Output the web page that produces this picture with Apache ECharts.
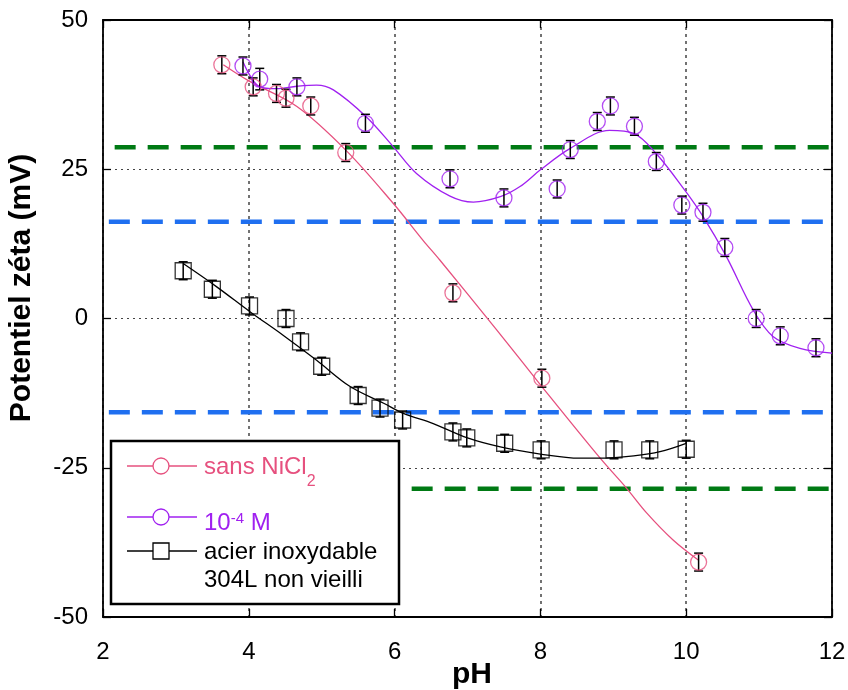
<!DOCTYPE html>
<html>
<head>
<meta charset="utf-8">
<script src="https://cdn.jsdelivr.net/npm/echarts@6/dist/echarts.min.js"></script>
<style>html,body{margin:0;padding:0;background:#fff}#c{width:848px;height:690px}</style>
</head>
<body>
<div id="c"></div>
<script>
// ---- data ----
const xTicks = [2, 4, 6, 8, 10, 12];
const yTicks = [-50, -25, 0, 25, 50];

// sans NiCl2 (pink circles)
const pinkX = [3.63, 4.06, 4.38, 4.51, 4.85, 5.33, 6.80, 8.02, 10.17];
const pinkY = [42.5, 38.8, 37.7, 36.9, 35.6, 27.8, 4.3, -10.0, -40.8];
const pinkErr = [1.5, 1.5, 1.5, 1.5, 1.5, 1.5, 1.5, 1.5, 1.5];
const pinkFitX = [3.65, 4.0, 4.66, 5.33, 5.98, 6.39, 6.62, 7.40, 8.02, 8.82, 9.18, 9.46, 9.82, 10.17];
const pinkFitY = [42.5, 39.8, 35.5, 28.2, 19.3, 13.1, 9.8, -1.9, -11.4, -23.4, -28.4, -32.6, -37.1, -40.5];

// 10^-4 M (purple circles)
const purpleX = [3.92, 4.15, 4.66, 5.60, 6.76, 7.50, 8.23, 8.41, 8.78, 8.96, 9.29, 9.59, 9.94, 10.23, 10.53, 10.96, 11.29, 11.78];
const purpleY = [42.3, 40.1, 38.8, 32.7, 23.4, 20.2, 21.7, 28.3, 33.0, 35.6, 32.2, 26.3, 19.0, 17.8, 11.9, 0.0, -2.9, -4.9];
const purpleErr = [1.5, 1.8, 1.5, 1.5, 1.5, 1.5, 1.5, 1.5, 1.5, 1.5, 1.5, 1.5, 1.5, 1.5, 1.5, 1.5, 1.5, 1.5];
const purpleFitX = [3.92, 4.15, 4.38, 4.66, 4.93, 5.16, 5.61, 5.98, 6.30, 6.76, 7.08, 7.45, 7.72, 8.0, 8.41, 8.95, 9.28, 9.59, 9.98, 10.23, 10.55, 10.92, 11.19, 11.56, 12.0];
const purpleFitY = [43.0, 38.8, 38.5, 38.9, 39.1, 38.3, 33.8, 28.8, 24.3, 20.5, 19.5, 20.4, 22.1, 24.9, 28.5, 31.5, 31.0, 27.6, 21.5, 17.1, 10.4, 1.4, -3.0, -5.0, -5.8];

// acier inoxydable 304L non vieilli (black squares)
const steelX = [3.10, 3.50, 4.01, 4.51, 4.71, 5.00, 5.50, 5.80, 6.11, 6.80, 6.99, 7.51, 8.01, 9.01, 9.50, 10.00];
const steelY = [8.0, 4.9, 2.1, 0.0, -3.9, -8.0, -12.9, -15.0, -17.0, -19.0, -20.0, -20.9, -22.0, -22.0, -22.0, -21.9];
const steelErr = [1.5, 1.5, 1.5, 1.5, 1.5, 1.5, 1.5, 1.5, 1.5, 1.5, 1.5, 1.5, 1.5, 1.5, 1.5, 1.5];
const steelFitX = [3.10, 3.56, 4.02, 4.47, 4.93, 5.39, 5.85, 6.12, 6.53, 7.0, 7.45, 8.0, 8.54, 8.82, 9.28, 9.64, 10.0];
const steelFitY = [9.2, 5.3, 1.1, -2.8, -7.0, -11.4, -14.2, -15.9, -17.6, -20.0, -21.5, -22.7, -23.4, -23.4, -23.0, -22.3, -20.9];

// dashed reference levels (mV) and their pH extent
const greenLevels = [28.7, -28.5];
const blueLevels = [16.2, -15.7];
const greenStart = [2.16, 2.16];
const blueStart = [2.08, 2.08];
const refEnd = 12;

const legendNames = ['sans NiCl', '2', '10', '-4', ' M', 'acier inoxydable', '304L non vieilli'];
const xTitle = 'pH';
const yTitleText = 'Potentiel zéta (mV)';

// ---- styles ----
const PINK = '#e6507e', PURPLE = '#a020f0', GREEN = '#007a14', BLUE = '#1f6ff0';
const FONT = "'Liberation Sans', Arial, sans-serif";

const zip = (a, b) => a.map((v, i) => [v, b[i]]);

function errSeries(xs, ys, es) {
  return {
    type: 'custom', z: 4, silent: true,
    renderItem: (params, api) => {
      const x = api.value(0), y = api.value(1), e = api.value(2);
      const p1 = api.coord([x, y + e]), p2 = api.coord([x, y - e]);
      const w = 4.5;
      const st = { stroke: '#000', lineWidth: 1.5 };
      return { type: 'group', children: [
        { type: 'line', shape: { x1: p1[0], y1: p1[1], x2: p2[0], y2: p2[1] }, style: st },
        { type: 'line', shape: { x1: p1[0] - w, y1: p1[1], x2: p1[0] + w, y2: p1[1] }, style: st },
        { type: 'line', shape: { x1: p2[0] - w, y1: p2[1], x2: p2[0] + w, y2: p2[1] }, style: st }
      ]};
    },
    encode: { x: 0, y: 1 },
    data: xs.map((x, i) => [x, ys[i], es[i]])
  };
}
function fitSeries(xs, ys, color) {
  return { type: 'line', data: zip(xs, ys), showSymbol: false, symbol: 'none', smooth: 0.35,
    lineStyle: { color: color, width: 1.3 }, z: 3, silent: true };
}
function markSeries(xs, ys, color, symbol) {
  return { type: 'scatter', data: zip(xs, ys), symbol: symbol, symbolSize: 16,
    itemStyle: { color: 'rgba(0,0,0,0)', borderColor: color, borderWidth: 1.3 }, z: 5, silent: true };
}
function refSeries(levels, starts, color) {
  return levels.map((lv, i) => ({
    type: 'line', data: [[starts[i], lv], [refEnd, lv]], showSymbol: false, symbol: 'none',
    lineStyle: { color: color, width: 4.5, type: [21, 12] }, z: 2, silent: true
  }));
}

const chart = echarts.init(document.getElementById('c'), null, { renderer: 'canvas' });

const LZ = 100;
const legendChildren = [
  { type: 'rect', z: LZ, shape: { x: 111, y: 441, width: 288, height: 163 }, style: { fill: '#fff', stroke: '#000', lineWidth: 2.5 } },
  { type: 'line', z: LZ + 1, shape: { x1: 127, y1: 466, x2: 197, y2: 466 }, style: { stroke: PINK, lineWidth: 1.3 } },
  { type: 'circle', z: LZ + 2, shape: { cx: 161, cy: 466, r: 8 }, style: { fill: '#fff', stroke: PINK, lineWidth: 1.3 } },
  { type: 'line', z: LZ + 1, shape: { x1: 127, y1: 517, x2: 197, y2: 517 }, style: { stroke: PURPLE, lineWidth: 1.3 } },
  { type: 'circle', z: LZ + 2, shape: { cx: 161, cy: 517, r: 8 }, style: { fill: '#fff', stroke: PURPLE, lineWidth: 1.3 } },
  { type: 'line', z: LZ + 1, shape: { x1: 127, y1: 551, x2: 197, y2: 551 }, style: { stroke: '#000', lineWidth: 1.3 } },
  { type: 'rect', z: LZ + 2, shape: { x: 153, y: 543, width: 16, height: 16 }, style: { fill: '#fff', stroke: '#000', lineWidth: 1.3 } },
  { type: 'text', z: LZ + 2, x: 204, y: 467, style: {
      text: '{m|' + legendNames[0] + '}{s|' + legendNames[1] + '}', verticalAlign: 'middle', align: 'left',
      rich: { m: { fontSize: 24, fontFamily: FONT, fill: PINK, lineHeight: 46 },
              s: { fontSize: 16, fontFamily: FONT, fill: PINK, lineHeight: 16, verticalAlign: 'bottom' } } } },
  { type: 'text', z: LZ + 2, x: 204, y: 523, style: {
      text: '{m|' + legendNames[2] + '}{p|' + legendNames[3] + '}{m|' + legendNames[4] + '}', verticalAlign: 'middle', align: 'left',
      rich: { m: { fontSize: 24, fontFamily: FONT, fill: PURPLE, lineHeight: 24 },
              p: { fontSize: 15, fontFamily: FONT, fill: PURPLE, lineHeight: 14, verticalAlign: 'top' } } } },
  { type: 'text', z: LZ + 2, x: 204, y: 552, style: { text: legendNames[5], fontSize: 24, fontFamily: FONT, fill: '#000', verticalAlign: 'middle', align: 'left' } },
  { type: 'text', z: LZ + 2, x: 204, y: 580, style: { text: legendNames[6], fontSize: 24, fontFamily: FONT, fill: '#000', verticalAlign: 'middle', align: 'left' } }
];
const yTitle = { type: 'text', x: 22, y: 288, rotation: Math.PI / 2, z: LZ,
  style: { text: yTitleText, fontSize: 30, fontWeight: 'bold', fontFamily: FONT, fill: '#000', align: 'center', verticalAlign: 'middle' } };
const xTitleEl = { type: 'text', x: 472, y: 675, z: LZ,
  style: { text: xTitle, fontSize: 30, fontWeight: 'bold', fontFamily: FONT, fill: '#000', align: 'center', verticalAlign: 'middle' } };

const axisCommon = {
  type: 'value',
  axisLine: { show: true, onZero: false, lineStyle: { color: '#000', width: 1.8 } },
  axisTick: { show: true, inside: true, length: 8, lineStyle: { color: '#000', width: 1.3 } }
};

chart.setOption({
  animation: false,
  backgroundColor: '#fff',
  grid: { left: 103, right: 16, top: 20, bottom: 73, containLabel: false, outerBoundsMode: 'none' },
  xAxis: [
    Object.assign({}, axisCommon, {
      min: xTicks[0], max: xTicks[xTicks.length - 1], interval: 2, position: 'bottom',
      axisLabel: { fontSize: 24, fontFamily: FONT, color: '#000', margin: 23 },
      splitLine: { show: true, lineStyle: { color: '#444', width: 1.5, type: [3, 4] } }
    }),
    Object.assign({}, axisCommon, {
      min: xTicks[0], max: xTicks[xTicks.length - 1], interval: 2, position: 'top',
      axisLabel: { show: false }, splitLine: { show: false }
    })
  ],
  yAxis: [
    Object.assign({}, axisCommon, {
      min: yTicks[0], max: yTicks[yTicks.length - 1], interval: 25, position: 'left',
      axisLabel: { fontSize: 24, fontFamily: FONT, color: '#000', margin: 15 },
      splitLine: { show: true, lineStyle: { color: '#444', width: 1.2, type: [2, 4] } }
    }),
    Object.assign({}, axisCommon, {
      min: yTicks[0], max: yTicks[yTicks.length - 1], interval: 25, position: 'right',
      axisLabel: { show: false }, splitLine: { show: false }
    })
  ],
  series: [
    ...refSeries(greenLevels, greenStart, GREEN),
    ...refSeries(blueLevels, blueStart, BLUE),
    fitSeries(pinkFitX, pinkFitY, PINK),
    fitSeries(purpleFitX, purpleFitY, PURPLE),
    fitSeries(steelFitX, steelFitY, '#000'),
    errSeries(pinkX, pinkY, pinkErr),
    errSeries(purpleX, purpleY, purpleErr),
    errSeries(steelX, steelY, steelErr),
    markSeries(pinkX, pinkY, PINK, 'circle'),
    markSeries(purpleX, purpleY, PURPLE, 'circle'),
    markSeries(steelX, steelY, '#000', 'rect')
  ],
  graphic: { elements: [
    { type: 'group', z: LZ, children: legendChildren },
    yTitle,
    xTitleEl
  ] }
});
</script>
</body>
</html>
